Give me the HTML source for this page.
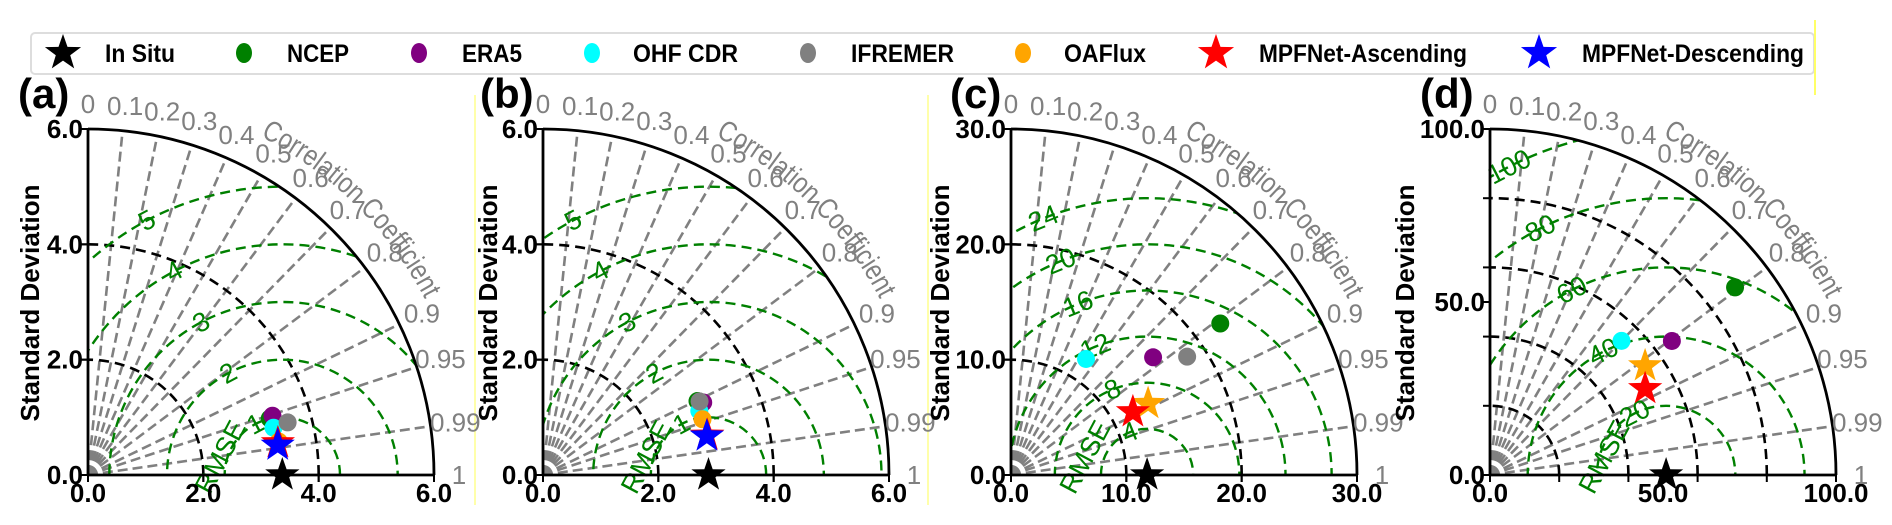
<!DOCTYPE html>
<html><head><meta charset="utf-8"><style>
html,body{margin:0;padding:0;background:#fff;width:1892px;height:525px;overflow:hidden;position:relative}
svg{display:block;position:absolute;left:0;top:0;font-family:"Liberation Sans",sans-serif}
</style></head><body>
<svg id="fig" width="1892" height="525" viewBox="0 0 1892 525" xmlns="http://www.w3.org/2000/svg">
<g id="legend">
<rect x="31" y="33" width="1783" height="41" rx="4" fill="#fff" stroke="#ddd" stroke-width="2"/>
</g>
<line x1="475" y1="95" x2="475" y2="505" stroke="#ffffaa" stroke-width="2"/>
<line x1="928" y1="95" x2="928" y2="505" stroke="#ffffaa" stroke-width="2"/>
<line x1="1815" y1="20" x2="1815" y2="95" stroke="#ffff66" stroke-width="2"/>
</svg>
<script>
// ---- data ----
const panelLabels = ['(a)','(b)','(c)','(d)'];
const maxStd = [6, 6, 30, 100];
const refStd = [3.37, 2.87, 11.8, 50.9];
const gridStd = [[2,4],[2,4],[10,20],[20,40,60,80]];
const tickValues = [[0,2,4,6],[0,2,4,6],[0,10,20,30],[0,50,100]];
const tickLabels = [['0.0','2.0','4.0','6.0'],['0.0','2.0','4.0','6.0'],['0.0','10.0','20.0','30.0'],['0.0','50.0','100.0']];
const rmseLevels = [[1,2,3,4,5],[1,2,3,4,5],[4,8,12,16,20,24],[20,40,60,80,100]];
const corrTicks = [0.1,0.2,0.3,0.4,0.5,0.6,0.7,0.8,0.9,0.95,0.99];
const corrLabelVals = [0,0.1,0.2,0.3,0.4,0.5,0.6,0.7,0.8,0.9,0.95,0.99,1];
const corrLabelText = ['0','0.1','0.2','0.3','0.4','0.5','0.6','0.7','0.8','0.9','0.95','0.99','1'];
// per-model std / corr for panels a,b,c,d (null = not shown)
const ncepStd = [3.30, 2.97, 22.4, 89.2];
const ncepCorr = [0.955, 0.902, 0.81, 0.794];
const era5Std = [3.36, 3.05, 16.0, 65.3];
const era5Corr = [0.952, 0.911, 0.77, 0.805];
const ohfStd = [3.32, 2.93, 11.98, 54.3];
const ohfCorr = [0.969, 0.925, 0.543, 0.70];
const ifremerStd = [3.58, 3.00, 18.4, null];
const ifremerCorr = [0.967, 0.905, 0.83, null];
const oafluxStd = [3.36, 2.93, 13.4, 54.8];
const oafluxCorr = [0.985, 0.944, 0.887, 0.818];
const ascStd = [3.34, 2.93, 11.9, 51.3];
const ascCorr = [0.986, 0.972, 0.888, 0.874];
const descStd = [3.33, 2.92, null, null];
const descCorr = [0.988, 0.973, null, null];

// ---- layout (style) ----
const OX = [88, 543, 1011, 1490], OY = 475, RPX = 346;
const labelX = [18, 480, 950, 1420];
const sdLabelX = [30, 488, 940, 1405];
const rmseAng = [118, 118, 112, 117];
const NS = 'http://www.w3.org/2000/svg';
const svg = document.getElementById('fig');
function mk(tag, attrs, parent){const e=document.createElementNS(NS,tag);for(const k in attrs)e.setAttribute(k,attrs[k]);(parent||svg).appendChild(e);return e;}
function starPath(cx,cy,ro){const ri=ro*0.4;let d='';for(let i=0;i<10;i++){const r=i%2?ri:ro;const a=-Math.PI/2+i*Math.PI/5;d+=(i?'L':'M')+(cx+r*Math.cos(a)).toFixed(1)+','+(cy+r*Math.sin(a)).toFixed(1);}return d+'Z';}

// ---- legend ----
const legNames=['In Situ','NCEP','ERA5','OHF CDR','IFREMER','OAFlux','MPFNet-Ascending','MPFNet-Descending'];
const legColors=['#000','green','purple','cyan','gray','orange','red','blue'];
const legStar=[1,0,0,0,0,0,1,1];
const legMX=[63,244,419,592,808,1023,1216,1539];
const legTX=[105,287,462,633,851,1064,1259,1582];
const legTW=[70,62,60,105,103,82,208,222];
const legG=document.getElementById('legend');
for(let i=0;i<legNames.length;i++){
  const g=mk('g',{},legG);
  
  
  if(legStar[i]) mk('path',{d:starPath(legMX[i],53,19),fill:legColors[i]},g);
  else mk('ellipse',{cx:legMX[i],cy:53,rx:8,ry:10,fill:legColors[i]},g);
  const t=mk('text',{x:legTX[i],y:62,'font-size':25,'font-weight':'bold',textLength:legTW[i],lengthAdjust:'spacingAndGlyphs'},g);
  t.textContent=legNames[i];
}

// ---- panels ----
for(let p=0;p<4;p++){
  const ox=OX[p], oy=OY, R=RPX, M=maxStd[p], s=R/M;
  const X=v=>ox+v*s, Yv=v=>oy-v*s;
  const pol=(r,c)=>[ox+r*s*c, oy-r*s*Math.sqrt(Math.max(0,1-c*c))];
  const g=mk('g',{});
  
  
  const cid='clip'+p;
  const cp=mk('clipPath',{id:cid},g);
  mk('path',{d:`M${ox},${oy}L${ox+R},${oy}A${R},${R} 0 0 0 ${ox},${oy-R}Z`},cp);
  for(const c of corrTicks){
    const [x2,y2]=pol(M,c);
    const l=mk('line',{x1:ox,y1:oy,x2:x2,y2:y2,stroke:'#808080','stroke-width':2.6,'stroke-dasharray':'10,5'},g);
    
    
  }
  for(const v of gridStd[p]){
    const r=v*s;
    const a=mk('path',{d:`M${ox+r},${oy}A${r},${r} 0 0 0 ${ox},${oy-r}`,fill:'none',stroke:'#000','stroke-width':2.6,'stroke-dasharray':'10,6'},g);
    
    
    mk('line',{x1:ox-7,y1:oy-r,x2:ox,y2:oy-r,stroke:'#000','stroke-width':2},g);
    mk('line',{x1:ox+r,y1:oy,x2:ox+r,y2:oy+7,stroke:'#000','stroke-width':2},g);
  }
  const rx0=X(refStd[p]);
  for(const lv of rmseLevels[p]){
    const a=mk('circle',{cx:rx0,cy:oy,r:lv*s,fill:'none',stroke:'green','stroke-width':2.4,'stroke-dasharray':'10,6','clip-path':`url(#${cid})`},g);
    
    
    const th=rmseAng[p]*Math.PI/180;
    const lx=rx0+lv*s*Math.cos(th), ly=oy-lv*s*Math.sin(th);
    const t=mk('text',{x:lx,y:ly,'font-size':27,fill:'green','text-anchor':'middle','dominant-baseline':'central',transform:`rotate(${-(rmseAng[p]-90)} ${lx} ${ly})`},g);
    
    
    t.textContent=String(lv);
  }
  const rmx=rx0-62, rmy=oy-18;
  const rt=mk('text',{x:rmx,y:rmy,'font-size':27,fill:'green','text-anchor':'middle','dominant-baseline':'central',transform:`rotate(-62 ${rmx} ${rmy})`},g);
  
  
  rt.textContent='RMSE';
  mk('path',{d:`M${ox+R},${oy}A${R},${R} 0 0 0 ${ox},${oy-R}`,fill:'none',stroke:'#000','stroke-width':2.8},g);
  mk('line',{x1:ox,y1:oy,x2:ox,y2:oy-R,stroke:'#000','stroke-width':2.8},g);
  mk('line',{x1:ox,y1:oy,x2:ox+R,y2:oy,stroke:'#000','stroke-width':2.8},g);
  for(let i=0;i<tickValues[p].length;i++){
    const v=tickValues[p][i];
    const ty=mk('text',{x:ox-5,y:Yv(v)+9,'font-size':26,'font-weight':'bold','text-anchor':'end'},g);
    
    
    ty.textContent=tickLabels[p][i];
    const tx=mk('text',{x:X(v),y:oy+27,'font-size':26,'font-weight':'bold','text-anchor':'middle'},g);
    
    
    tx.textContent=tickLabels[p][i];
    mk('line',{x1:ox-7,y1:Yv(v),x2:ox,y2:Yv(v),stroke:'#000','stroke-width':2},g);
    mk('line',{x1:X(v),y1:oy,x2:X(v),y2:oy+7,stroke:'#000','stroke-width':2},g);
  }
  for(let i=0;i<corrLabelVals.length;i++){
    const c=corrLabelVals[i], rr=R+25, sn=Math.sqrt(1-c*c);
    const t=mk('text',{x:ox+rr*c,y:oy-rr*sn,'font-size':26,fill:'#808080','text-anchor':'middle','dominant-baseline':'central'},g);
    
    
    t.textContent=corrLabelText[i];
  }
  const rb=R+34, a1=63*Math.PI/180, a2=22*Math.PI/180;
  mk('path',{id:'cp'+p,d:`M${ox+rb*Math.cos(a1)},${oy-rb*Math.sin(a1)}A${rb},${rb} 0 0 1 ${ox+rb*Math.cos(a2)},${oy-rb*Math.sin(a2)}`,fill:'none'},g);
  const ct=mk('text',{'font-size':29,fill:'#808080'},g);
  
  
  const tp=mk('textPath',{href:'#cp'+p,textLength:235,lengthAdjust:'spacingAndGlyphs'},ct);
  tp.textContent='Correlation Coefficient';
  const sx=sdLabelX[p], sy=303;
  const sl=mk('text',{x:sx,y:sy,'font-size':26,'font-weight':'bold','text-anchor':'middle','dominant-baseline':'central',transform:`rotate(-90 ${sx} ${sy})`},g);
  
  
  sl.textContent='Standard Deviation';
  const pl=mk('text',{x:labelX[p],y:108,'font-size':42,'font-weight':'bold'},g);
  
  
  pl.textContent=panelLabels[p];
  const series=[
    ['ncep',ncepStd,ncepCorr,'green',0],
    ['era5',era5Std,era5Corr,'purple',0],
    ['ohf-cdr',ohfStd,ohfCorr,'cyan',0],
    ['ifremer',ifremerStd,ifremerCorr,'gray',0],
    ['oaflux',oafluxStd,oafluxCorr,'orange',p>=2?1:0],
    ['mpfnet-ascending',ascStd,ascCorr,'red',1],
    ['mpfnet-descending',descStd,descCorr,'blue',1]
  ];
  for(const [nm,sd,cc,col,isStar] of series){
    if(sd[p]==null) continue;
    const [mx,my]=pol(sd[p],cc[p]);
    let m;
    if(isStar) m=mk('path',{d:starPath(mx,my,18),fill:col},g);
    else m=mk('circle',{cx:mx,cy:my,r:9,fill:col},g);
    
    
  }
  const rs=mk('path',{d:starPath(X(refStd[p]),oy,18),fill:'#000'},g);
  
  
}
</script>
</body></html>
